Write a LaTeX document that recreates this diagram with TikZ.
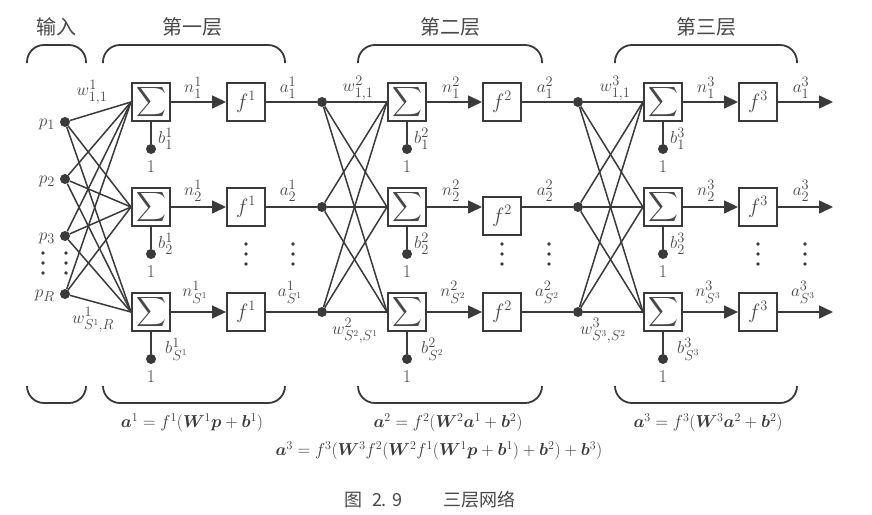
\documentclass[tikz,border=0pt]{standalone}
\usepackage{fontspec}
\usepackage{amsmath,bm}
\newfontfamily\cjk{Noto Sans CJK SC}
\usetikzlibrary{arrows.meta,calc}
\definecolor{ink}{HTML}{3A3A3A}
\definecolor{txt}{HTML}{484848}
\begin{document}
\begin{tikzpicture}[x=1pt,y=-1pt,
  wire/.style={draw=ink,line width=1.5pt},
  sumbox/.style={draw=ink,line width=2pt,minimum size=38pt,inner sep=0pt,fill=white,text=txt,font=\fontsize{20}{23}\selectfont},
  fnbox/.style={draw=ink,line width=2pt,minimum size=38pt,inner sep=0pt,fill=white,text=txt,font=\fontsize{21}{24}\selectfont},
  dot/.style={circle,fill=ink,inner sep=0pt,minimum size=10pt},
  edot/.style={circle,fill=ink,inner sep=0pt,minimum size=3.6pt},
  lbl/.style={text=txt,font=\fontsize{19}{22}\selectfont,inner sep=0pt},
  one/.style={text=txt,font=\fontsize{18}{21}\selectfont,inner sep=0pt},
  arr/.style={-{Triangle[length=14pt,width=13pt]}},
  brk/.style={draw=ink,line width=1.8pt,rounded corners=17pt},
  title/.style={text=txt,font=\cjk\fontsize{20}{23}\selectfont,inner sep=0pt},
  eq/.style={text=ink,font=\fontsize{18}{21}\selectfont,inner sep=0pt}
]
\useasboundingbox[fill=white] (0,0) rectangle (872,514);

% ---------- titles ----------
\node[title] (tin) at (56,27) {输入};
\node[title] (t1) at (192,27) {第一层};
\node[title] (t2) at (450,27) {第二层};
\node[title] (t3) at (706,27) {第三层};

% ---------- brackets ----------
\foreach \a/\b in {27/86,103/285,358/542,615/797}{
  \draw[brk] (\a,63) -- (\a,45) -- (\b,45) -- (\b,63);
  \draw[brk] (\a,386) -- (\a,403) -- (\b,403) -- (\b,386);
}

% ---------- input dots ----------
\node[dot] (p1) at (65,122) {};
\node[dot] (p2) at (65,179) {};
\node[dot] (p3) at (65,236) {};
\node[dot] (pR) at (65,294) {};
\node[lbl,anchor=east] (lp1) at (55,124) {$p_1$};
\node[lbl,anchor=east] (lp2) at (55,181) {$p_2$};
\node[lbl,anchor=east] (lp3) at (55,238) {$p_3$};
\node[lbl,anchor=east] (lpR) at (55,296) {$p_R$};
\foreach \yy/\k in {253/1,263/2,273/3}{
  \node[edot] (ia\k) at (43,\yy) {};
  \node[edot] (ib\k) at (66,\yy) {};
}

% ---------- layer nodes ----------
\foreach \L/\sx/\fx in {1/151/246,2/407/502,3/663/758}{
  \foreach \r/\ry in {1/102,2/207,3/312}{
    \node[sumbox] (s\L\r) at (\sx,\ry) {$\displaystyle\sum$};
    \node[dot] (b\L\r) at (\sx,\ry+47) {};
    \node[one] (u\L\r) at (\sx,\ry+65) {1};
  }
  \node[fnbox] (f\L1) at (\fx,102) {$f^{\L}$};
  \node[fnbox] (f\L3) at (\fx,312) {$f^{\L}$};
  \foreach \yy/\k in {244/1,254/2,264/3}{
    \node[edot] (ef\L\k) at (\fx,\yy) {};
    \node[edot] (ea\L\k) at (\fx+47,\yy) {};
  }
}
\node[fnbox] (f12) at (246,207) {$f^{1}$};
\node[fnbox] (f22) at (502,216) {$f^{2}$};
\node[fnbox] (f32) at (758,207) {$f^{3}$};

% hidden-layer distribution dots
\foreach \L/\dx in {2/322,3/578}{
  \foreach \r/\ry in {1/102,2/207,3/312}{
    \node[dot] (d\L\r) at (\dx,\ry) {};
  }
}
\foreach \r/\ry in {1/102,2/207,3/312}{
  \coordinate (o\r) at (833,\ry);
}

% ---------- connectors ----------
\foreach \p in {p1,p2,p3,pR}{
  \foreach \s in {s11,s12,s13}{ \draw[wire] (\p) -- (\s.west); }
}
\foreach \L in {2,3}{
  \foreach \d in {1,2,3}{
    \foreach \s in {1,2,3}{ \draw[wire] (d\L\d) -- (s\L\s.west); }
  }
}
\foreach \L in {1,2,3}{
  \foreach \r in {1,2,3}{ \draw[wire] (s\L\r.south) -- (b\L\r); }
}
\foreach \L/\r in {1/1,1/2,1/3,2/1,2/3,3/1,3/2,3/3}{
  \draw[wire,arr] (s\L\r.east) -- (f\L\r.west);
}
\draw[wire,arr] (s22.east) -- (s22.east -| f22.west);
\foreach \r in {1,2,3}{
  \draw[wire] (f1\r.east) -- (d2\r);
  \draw[wire,arr] (f3\r.east) -- (o\r);
}
\draw[wire] (f21.east) -- (d31);
\draw[wire] (f22.east |- s22.east) -- (d32);
\draw[wire] (f23.east) -- (d33);

% ---------- weight labels ----------
\node[lbl] (w1a) at (92,92) {$w^1_{1,1}$};
\node[lbl] (w1b) at (93,320) {$w^1_{S^1,R}$};
\node[lbl] (w2a) at (358,88) {$w^2_{1,1}$};
\node[lbl] (w2b) at (355,331) {$w^2_{S^2,S^1}$};
\node[lbl] (w3a) at (615,88) {$w^3_{1,1}$};
\node[lbl] (w3b) at (603,331) {$w^3_{S^3,S^2}$};

% ---------- n / a labels ----------
\foreach \L/\nx/\ax in {1/193/288,2/451/545,3/706/801}{
  \node[lbl] (n\L1) at (\nx,88) {$n^{\L}_1$};
  \node[lbl] (a\L1) at (\ax,88) {$a^{\L}_1$};
  \node[lbl] (n\L2) at (\nx,191) {$n^{\L}_2$};
  \node[lbl] (a\L2) at (\ax,191) {$a^{\L}_2$};
  \node[lbl] (n\L3) at (\nx+2,292) {$n^{\L}_{S^{\L}}$};
  \node[lbl] (a\L3) at (\ax+2,292) {$a^{\L}_{S^{\L}}$};
  \node[lbl,anchor=west] (lb\L1) at ($(b\L1)+(7,-10)$) {$b^{\L}_1$};
  \node[lbl,anchor=west] (lb\L2) at ($(b\L2)+(7,-10)$) {$b^{\L}_2$};
  \node[lbl,anchor=west] (lb\L3) at ($(b\L3)+(14,-10)$) {$b^{\L}_{S^{\L}}$};
}

% ---------- equations ----------
\node[eq] (e1) at (192,423) {$\bm{a}^1=f^1(\bm{W}^1\bm{p}+\bm{b}^1)$};
\node[eq] (e2) at (448,423) {$\bm{a}^2=f^2(\bm{W}^2\bm{a}^1+\bm{b}^2)$};
\node[eq] (e3) at (708,423) {$\bm{a}^3=f^3(\bm{W}^3\bm{a}^2+\bm{b}^2)$};
\node[eq] (e4) at (439,451) {$\bm{a}^3=f^3(\bm{W}^3f^2(\bm{W}^2f^1(\bm{W}^1\bm{p}+\bm{b}^1)+\bm{b}^2)+\bm{b}^3)$};
\node[title,font=\cjk\fontsize{18}{21}\selectfont] (cap) at (430,500) {图\hspace{10pt}2.\hspace{5pt}9\hspace{42pt}三层网络};
\end{tikzpicture}
\end{document}
